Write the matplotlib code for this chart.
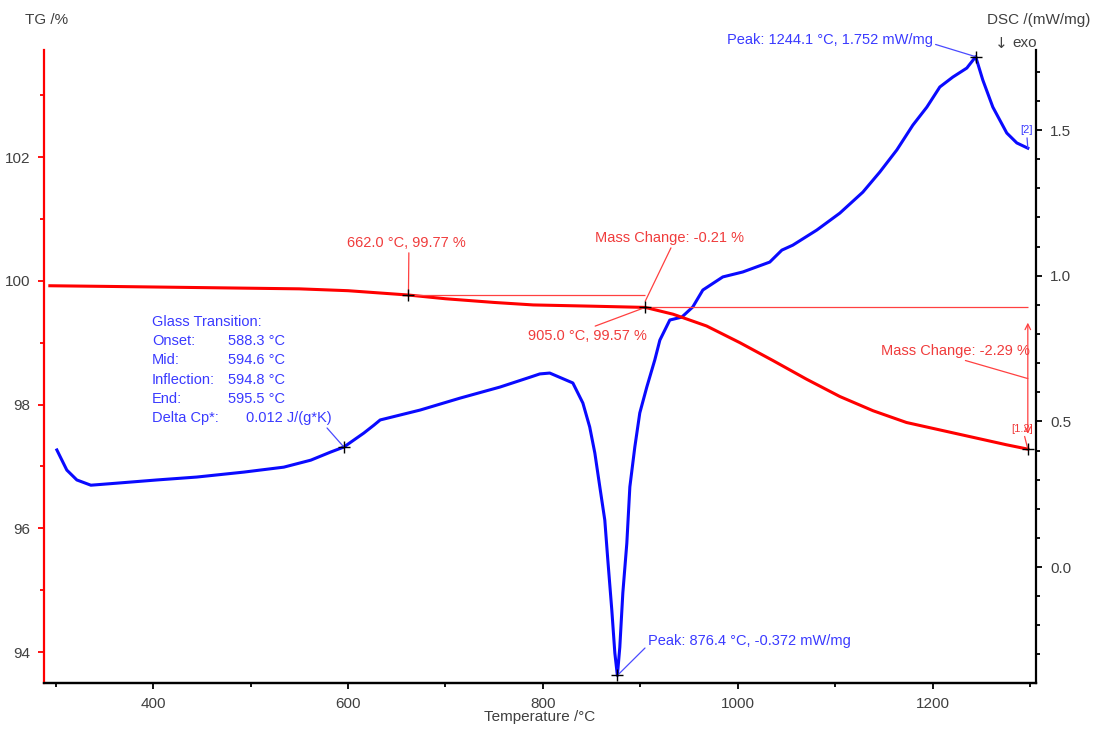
import matplotlib.pyplot as plt
from matplotlib.ticker import MultipleLocator, FormatStrFormatter

plt.rcParams['font.family'] = ['Liberation Sans', 'DejaVu Sans']

# DSC curve (blue, right axis)
dsc_temp = [301.2, 311.4, 321.7, 336.1, 362.7, 403.8, 444.8, 493.1, 534.1, 561.8,
            582.3, 595.7, 616.2, 626.5, 633, 674, 715, 756, 787, 796.8, 807,
            830.7, 841, 848, 853.3, 858.4, 863.5, 866.6, 870.7, 873.8, 876.4,
            878.9, 882, 886.1, 889.2, 894.3, 899.4, 906.6, 914.8, 920.0, 930.2,
            942.5, 953.8, 964.1, 984.6, 1005.1, 1032.8, 1045.2, 1056.4, 1081.1,
            1104.7, 1128.3, 1145.7, 1163.2, 1179.6, 1194.0, 1207.3, 1220.6,
            1235.0, 1244.1, 1251.4, 1261.7, 1276.0, 1286.3, 1297.6]
dsc_val = [0.402, 0.333, 0.299, 0.281, 0.288, 0.299, 0.309, 0.326, 0.343, 0.367,
           0.395, 0.412, 0.460, 0.487, 0.505, 0.539, 0.580, 0.618, 0.652, 0.663,
           0.666, 0.632, 0.563, 0.481, 0.391, 0.275, 0.161, 0.024, -0.148,
           -0.295, -0.372, -0.275, -0.089, 0.082, 0.275, 0.412, 0.529, 0.618,
           0.711, 0.779, 0.848, 0.858, 0.893, 0.951, 0.996, 1.013, 1.047, 1.088,
           1.105, 1.157, 1.215, 1.287, 1.356, 1.432, 1.517, 1.579, 1.648, 1.682,
           1.713, 1.752, 1.672, 1.579, 1.490, 1.456, 1.438]

# TG curve (red, left axis)
tg_temp = [294, 350, 400, 450, 500, 550, 600, 662, 700, 750, 790, 850, 905,
           933.6, 967.9, 1002.1, 1036.2, 1070.5, 1104.7, 1138.8, 1173.1,
           1207.3, 1241.5, 1275.7, 1297.6]
tg_val = [99.92, 99.91, 99.90, 99.89, 99.88, 99.87, 99.84, 99.77, 99.71, 99.65,
          99.61, 99.59, 99.57, 99.46, 99.27, 99.00, 98.71, 98.41, 98.13, 97.90,
          97.71, 97.59, 97.47, 97.35, 97.28]

peak_hi = (1244.1, 1.752)
peak_lo = (876.4, -0.372)
glass_pt = (595.7, 0.412)
tg_pt1 = (662.0, 99.77)
tg_pt2 = (905.0, 99.57)
tg_end = (1297.6, 97.28)

glass_rows = [("Onset:", "588.3 °C"), ("Mid:", "594.6 °C"),
              ("Inflection:", "594.8 °C"), ("End:", "595.5 °C")]

RED = "#ff0000"
RED_TXT = "#f03c3c"
BLUE = "#0a0aff"
BLUE_TXT = "#3a3aff"
GREY = "#404040"

fig = plt.figure(figsize=(10.94, 7.29), dpi=100)
ax = fig.add_axes([44 / 1094, 1 - 683 / 729, 992 / 1094, 633 / 729])
ax2 = ax.twinx()
ax.set_zorder(2)
ax.patch.set_visible(False)

ax2.plot(dsc_temp, dsc_val, color=BLUE, lw=2.2, solid_joinstyle="round")
ax.plot(tg_temp, tg_val, color=RED, lw=2.2, solid_joinstyle="round")

# axes limits
ax.set_xlim(288, 1306)
ax.set_ylim(93.5, 103.73)
ax2.set_ylim(-0.398, 1.775)

# ticks
ax.xaxis.set_major_locator(MultipleLocator(200))
ax.xaxis.set_minor_locator(MultipleLocator(100))
ax.yaxis.set_major_locator(MultipleLocator(2))
ax.yaxis.set_minor_locator(MultipleLocator(1))
ax2.yaxis.set_major_locator(MultipleLocator(0.5))
ax2.yaxis.set_minor_locator(MultipleLocator(0.1))
ax2.yaxis.set_major_formatter(FormatStrFormatter("%.1f"))

ax.tick_params(axis="x", which="both", colors="black", labelcolor=GREY,
               labelsize=11, width=1.3, pad=6)
ax.tick_params(axis="y", which="both", colors=RED, labelcolor=GREY,
               labelsize=11, width=1.3, pad=6)
ax2.tick_params(axis="y", which="both", colors="black", labelcolor=GREY,
                labelsize=11, width=1.3, pad=6)
for a in [ax, ax2]:
    a.tick_params(which="major", length=4)
    a.tick_params(which="minor", length=3)
    a.spines["top"].set_visible(False)
    for s in a.spines.values():
        s.set_linewidth(1.6)
ax.spines["right"].set_visible(False)
ax2.spines["left"].set_visible(False)
ax.spines["left"].set_color(RED)
ax2.spines["right"].set_color("black")

# axis titles
fig.text(25 / 1094, 1 - 20 / 729, "TG /%", color=GREY, fontsize=11,
         ha="left", va="center")
fig.text(1090 / 1094, 1 - 20 / 729, "DSC /(mW/mg)", color=GREY, fontsize=11,
         ha="right", va="center")
fig.text(1001 / 1094, 1 - 43 / 729, "↓", color=GREY, fontsize=11,
         family=["DejaVu Sans"], ha="center", va="center")
fig.text(1012 / 1094, 1 - 43 / 729, "exo", color=GREY, fontsize=11,
         ha="left", va="center")
fig.text(540 / 1094, 1 - 717 / 729, "Temperature /°C", color=GREY,
         fontsize=11, ha="center", va="center")

# markers
mk = dict(marker="+", color="black", ms=9, mew=1, ls="none", zorder=5)
ax2.plot(*zip(peak_hi, peak_lo, glass_pt), **mk)
ax.plot(*zip(tg_pt1, tg_pt2, tg_end), **mk)

thin_red = dict(arrowstyle="-", color="#ff4040", lw=0.9, shrinkA=0, shrinkB=0)
thin_blue = dict(arrowstyle="-", color="#4a4aff", lw=0.9, shrinkA=0, shrinkB=0)

# DSC annotations
ax2.annotate("Peak: 1244.1 °C, 1.752 mW/mg", xy=peak_hi, xytext=(988.7, 1.809),
             color=BLUE_TXT, fontsize=10.5, ha="left", va="center",
             annotation_clip=False,
             arrowprops=dict(thin_blue, relpos=(1.0, 0.25)))
ax2.annotate("Peak: 876.4 °C, -0.372 mW/mg", xy=peak_lo, xytext=(907.6, -0.254),
             color=BLUE_TXT, fontsize=10.5, ha="left", va="center",
             arrowprops=dict(thin_blue, relpos=(0.0, 0.2)))
ax2.annotate("[2]", xy=(dsc_temp[-1], dsc_val[-1]), xytext=(1296.6, 1.50),
             color=BLUE_TXT, fontsize=8, ha="center", va="center",
             arrowprops=dict(thin_blue, relpos=(0.5, 0.0)))

# glass transition block
gx, gx2, gy, dy = 398.7, 476.7, 99.34, 0.313
ax.text(gx, gy, "Glass Transition:", color=BLUE_TXT, fontsize=10.5, va="center")
for i, (lab, val) in enumerate(glass_rows, start=1):
    ax.text(gx, gy - i * dy, lab, color=BLUE_TXT, fontsize=10.5, va="center")
    ax.text(gx2, gy - i * dy, val, color=BLUE_TXT, fontsize=10.5, va="center")
ax.text(gx, gy - 5 * dy, "Delta Cp*:", color=BLUE_TXT, fontsize=10.5,
        va="center")
ax2.annotate("0.012 J/(g*K)", xy=glass_pt, xytext=(495.1, 0.511),
             color=BLUE_TXT, fontsize=10.5, ha="left", va="center",
             arrowprops=dict(thin_blue, relpos=(0.92, 0.0)))

# TG annotations
ax.annotate("662.0 °C, 99.77 %", xy=tg_pt1, xytext=(660, 100.61),
            color=RED_TXT, fontsize=10.5, ha="center", va="center",
            arrowprops=dict(thin_red, relpos=(0.52, 0.0)))
ax.hlines(tg_pt1[1], tg_pt1[0], tg_pt2[0], color="#ff4040", lw=0.9)
ax.hlines(tg_pt2[1], tg_pt2[0], tg_end[0], color="#ff4040", lw=0.9)
ax.annotate("Mass Change: -0.21 %", xy=(tg_pt2[0], (tg_pt1[1] + tg_pt2[1]) / 2),
            xytext=(929.7, 100.69), color=RED_TXT, fontsize=10.5,
            ha="center", va="center",
            arrowprops=dict(thin_red, relpos=(0.52, 0.0)))
ax.annotate("905.0 °C, 99.57 %", xy=tg_pt2, xytext=(846, 99.11),
            color=RED_TXT, fontsize=10.5, ha="center", va="center",
            arrowprops=dict(thin_red, relpos=(0.5, 1.0)))
ax.annotate("", xy=(tg_end[0], tg_pt2[1]), xytext=tg_end,
            arrowprops=dict(arrowstyle="<->", color="#ff4040", lw=0.9,
                            shrinkA=11, shrinkB=11))
ax.annotate("Mass Change: -2.29 %", xy=(tg_end[0], 98.42),
            xytext=(1223.7, 98.87), color=RED_TXT, fontsize=10.5,
            ha="center", va="center",
            arrowprops=dict(thin_red, relpos=(0.5, 0.0)))
ax.annotate("[1.2]", xy=tg_end, xytext=(1291.4, 97.61),
            color=RED_TXT, fontsize=8, ha="center", va="center",
            arrowprops=dict(thin_red, relpos=(0.6, 0.0)))

fig.savefig("out.png", dpi=100)
